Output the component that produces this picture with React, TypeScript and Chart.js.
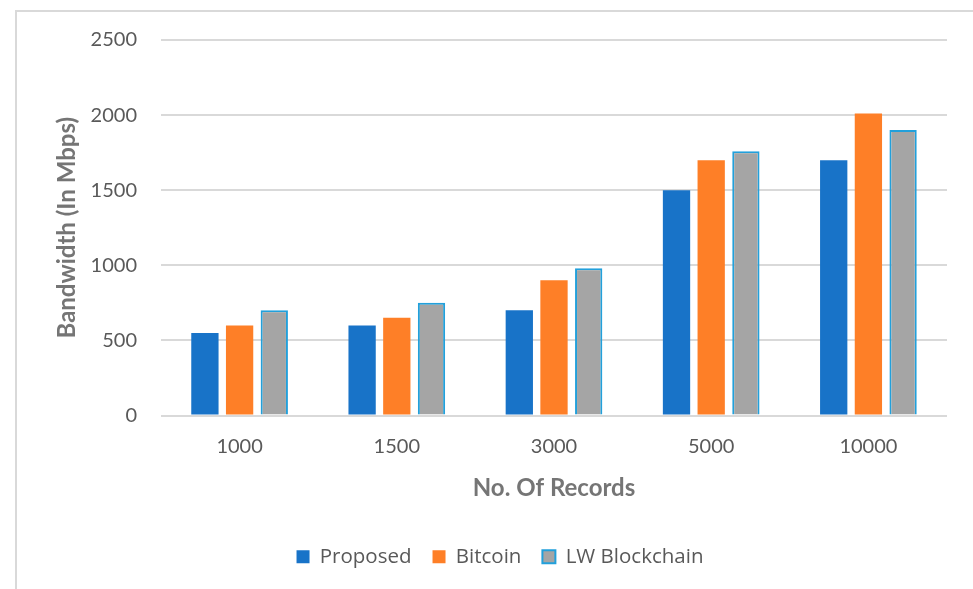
import React, { useEffect, useRef } from "react";
import { Chart, registerables } from "chart.js";

Chart.register(...registerables);

const categories = ["1000", "1500", "3000", "5000", "10000"];
const proposed = [550, 600, 700, 1500, 1700];
const bitcoin = [600, 650, 900, 1700, 2010];
const lwBlockchain = [700, 750, 980, 1760, 1900];
const yTicks = [0, 500, 1000, 1500, 2000, 2500];

const xTitle = "No. Of Records";
const yTitle = "Bandwidth (In Mbps)";

export default function App() {
  const ref = useRef<HTMLCanvasElement | null>(null);

  useEffect(() => {
    if (!ref.current) return;
    const chart = new Chart(ref.current, {
      type: "bar",
      data: {
        labels: categories,
        datasets: [
          {
            label: "Proposed",
            data: proposed,
            backgroundColor: "#1873c8",
            borderWidth: 0,
          },
          {
            label: "Bitcoin",
            data: bitcoin,
            backgroundColor: "#fe7f27",
            borderWidth: 0,
          },
          {
            label: "LW Blockchain",
            data: lwBlockchain,
            backgroundColor: "#a5a5a5",
            borderColor: "#22a0db",
            borderWidth: 2,
          },
        ],
      },
      options: {
        responsive: false,
        animation: false,
        maintainAspectRatio: false,
        layout: { padding: { left: 53, right: 26, top: 40, bottom: 12 } },
        datasets: {
          bar: { categoryPercentage: 0.662, barPercentage: 0.787 },
        },
        plugins: {
          tooltip: { enabled: false },
          legend: {
            position: "bottom",
            labels: {
              color: "#595959",
              font: { family: "'Open Sans'", size: 20.5 },
              boxWidth: 13,
              boxHeight: 13,
              padding: 21,
            },
          },
        },
        scales: {
          x: {
            grid: { display: false, drawTicks: false },
            border: { display: false },
            ticks: {
              color: "#595959",
              font: { family: "Lato", size: 20 },
              padding: 19,
            },
            title: {
              display: true,
              text: xTitle,
              color: "#757575",
              font: { family: "Lato", size: 24, weight: "bold" },
              padding: { top: 10, bottom: 23 },
            },
            afterFit: (s: any) => {
              s.height = 110;
            },
          },
          y: {
            min: 0,
            max: 2500,
            afterBuildTicks: (s: any) => {
              s.ticks = yTicks.map((v) => ({ value: v }));
            },
            grid: { color: "#d9d9d9", lineWidth: 2, drawTicks: false },
            border: { display: false },
            ticks: {
              color: "#595959",
              font: { family: "Lato", size: 20 },
              padding: 24,
              callback: (v: any) => String(v),
            },
            title: {
              display: true,
              text: yTitle,
              color: "#757575",
              font: { family: "Lato", size: 24, weight: "bold" },
              padding: { top: 0, bottom: 0 },
            },
            afterFit: (s: any) => {
              s.width = 108;
            },
          },
        },
      },
    });
    return () => chart.destroy();
  }, []);

  return (
    <div
      style={{
        position: "fixed",
        left: 0,
        top: 0,
        width: 973,
        height: 589,
        overflow: "hidden",
        background: "#ffffff",
      }}
    >
      <div
        style={{
          position: "absolute",
          left: 15,
          top: 10,
          width: 1100,
          height: 800,
          border: "2px solid #d9d9d9",
          boxSizing: "border-box",
        }}
      />
      <canvas
        ref={ref}
        width={973}
        height={589}
        style={{ position: "absolute", left: 0, top: 0, width: 973, height: 589 }}
      />
    </div>
  );
}
